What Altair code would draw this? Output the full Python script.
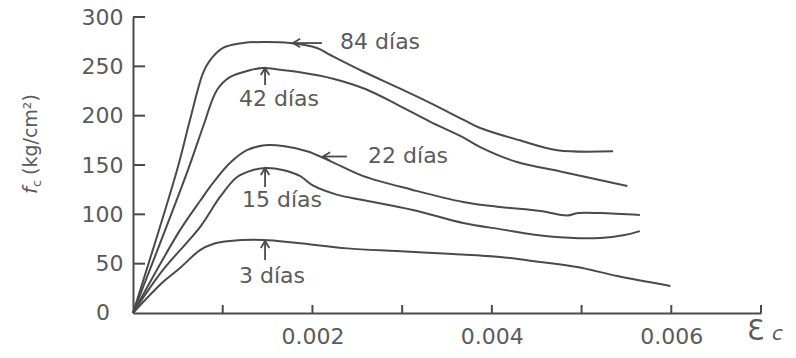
import altair as alt
import pandas as pd

# ---- data ----
x84 = [0, 0.000491, 0.000635, 0.00078, 0.000858, 0.001003, 0.001226, 0.001449, 0.00175, 0.00205, 0.0022,
       0.00256, 0.00294, 0.00331, 0.00368, 0.00387, 0.00431, 0.00473, 0.00535]
y84 = [0, 145, 195.6, 243, 256, 268.6, 273.6, 274.7, 273.6, 268.6, 261.5,
       245, 229, 213, 196, 187.5, 175, 165, 164]

x42 = [0, 0.000613, 0.00078, 0.000936, 0.00108, 0.0013, 0.00145, 0.00164, 0.00186, 0.00223, 0.00259,
       0.00295, 0.00331, 0.00368, 0.00387, 0.00428, 0.00479, 0.00551]
y42 = [0, 145, 188.5, 226, 239, 246, 248.3, 246.5, 244, 237.5, 227,
       211, 194, 178, 168.2, 153, 143, 128.7]

x22 = [0, 0.000524, 0.000747, 0.000892, 0.00108, 0.00127, 0.00147, 0.00169, 0.00194, 0.0022, 0.00256,
       0.00312, 0.00368, 0.00409, 0.00454, 0.00484, 0.00496, 0.00521, 0.00565]
y22 = [0, 84, 113.5, 131.8, 152, 165, 170, 169, 164, 154, 139,
       124.7, 112.5, 107.4, 103.4, 98.8, 101.3, 101.3, 99.3]

x15 = [0, 0.000334, 0.000747, 0.00097, 0.00116, 0.00134, 0.00149, 0.00167, 0.00186, 0.00201, 0.00227,
       0.00256, 0.00312, 0.00368, 0.00409, 0.00465, 0.00521, 0.00548, 0.00565]
y15 = [0, 43.6, 87, 117.6, 137.8, 145, 147, 145, 139, 129, 120,
       114.6, 104.4, 91.2, 85, 77.5, 76, 79, 83]

x3 = [0, 0.000334, 0.000524, 0.000747, 0.000892, 0.00108, 0.00145, 0.00183, 0.00239, 0.00294, 0.00357,
      0.00409, 0.00454, 0.00495, 0.0054, 0.00599]
y3 = [0, 31.4, 45.6, 63.8, 70, 73, 74, 71, 65.5, 62.8, 59.8,
      56.8, 51.7, 46.6, 37.5, 27.4]

series = {"84 días": (x84, y84), "42 días": (x42, y42), "22 días": (x22, y22),
          "15 días": (x15, y15), "3 días": (x3, y3)}

# curve labels (text, x, y)
label_text = ["84 días", "42 días", "22 días", "15 días", "3 días"]
label_x = [0.002754, 0.001628, 0.003066, 0.001661, 0.00155]
label_y = [274.6, 216.9, 159.1, 114.5, 37.5]

# arrows: head and tail positions
h_arrow_xhead = [0.001784, 0.002118]
h_arrow_xtail = [0.002107, 0.002386]
h_arrow_y = [273.6, 158.6]
v_arrow_x = [0.001472, 0.001472, 0.001472]
v_arrow_yhead = [248.3, 147.0, 73.0]
v_arrow_ytail = [231.0, 127.7, 53.7]

x_tick_vals = [0.001, 0.002, 0.003, 0.004, 0.005, 0.006, 0.007]
x_label_vals = [0.002, 0.004, 0.006]
y_tick_vals = [50, 100, 150, 200, 250, 300]

INK = "#4a4a4a"
TXT = "#5a5a5a"
FONT = "DejaVu Sans"
FS = 22

rows = []
for name, (xs_, ys_) in series.items():
    for i, (a, b) in enumerate(zip(xs_, ys_)):
        rows.append({"serie": name, "x": a, "y": b, "o": i})
df = pd.DataFrame(rows)

xs = alt.Scale(domain=[0, 0.007], nice=False, zero=False)
ys = alt.Scale(domain=[0, 300], nice=False)

lines = alt.Chart(df).mark_line(color=INK, strokeWidth=2, interpolate="catmull-rom").encode(
    x=alt.X("x:Q", scale=xs, title=None,
            axis=alt.Axis(values=x_label_vals, format=".3f", ticks=False, tickSize=0, grid=False,
                          domainColor=INK, domainWidth=2, labelFont=FONT, labelFontSize=FS,
                          labelColor=TXT, labelPadding=13, title=None)),
    y=alt.Y("y:Q", scale=ys, title=None,
            axis=alt.Axis(values=y_tick_vals, ticks=False, tickSize=0, grid=False,
                          domainColor=INK, domainWidth=2, labelFont=FONT, labelFontSize=FS,
                          labelColor=TXT, labelPadding=10, title=None)),
    detail="serie:N",
    order="o:Q",
)

# inward ticks
yt = alt.Chart(pd.DataFrame({"v": y_tick_vals})).mark_rule(color=INK, strokeWidth=2).encode(
    y=alt.Y("v:Q", scale=ys, title=None), x=alt.value(0), x2=alt.value(12))
xt = alt.Chart(pd.DataFrame({"v": x_tick_vals})).mark_rule(color=INK, strokeWidth=2).encode(
    x=alt.X("v:Q", scale=xs, title=None), y=alt.value(296), y2=alt.value(288))

zero_lbl = alt.Chart(pd.DataFrame({"x": [0], "y": [0], "t": ["0"]})).mark_text(
    font=FONT, fontSize=FS, color=TXT, align="right", baseline="middle", dx=-23).encode(
    x=alt.X("x:Q", scale=xs, title=None), y=alt.Y("y:Q", scale=ys, title=None), text="t:N")

labels = alt.Chart(pd.DataFrame({"t": label_text, "x": label_x, "y": label_y})).mark_text(
    font=FONT, fontSize=FS, color=TXT, align="center", baseline="middle").encode(
    x=alt.X("x:Q", scale=xs, title=None), y=alt.Y("y:Q", scale=ys, title=None), text="t:N")

harr = pd.DataFrame({"xh": h_arrow_xhead, "xt": h_arrow_xtail, "y": h_arrow_y})
h_shaft = alt.Chart(harr).mark_rule(color=INK, strokeWidth=1.8).encode(
    x=alt.X("xh:Q", scale=xs, title=None), x2="xt:Q", y=alt.Y("y:Q", scale=ys, title=None))
h_head = alt.Chart(harr).mark_point(shape="M1,-0.6L0,0L1,0.6", filled=False, size=200,
                                    color=INK, strokeWidth=1.8, opacity=1).encode(
    x=alt.X("xh:Q", scale=xs, title=None), y=alt.Y("y:Q", scale=ys, title=None))

varr = pd.DataFrame({"x": v_arrow_x, "yh": v_arrow_yhead, "yt": v_arrow_ytail})
v_shaft = alt.Chart(varr).mark_rule(color=INK, strokeWidth=1.8).encode(
    x=alt.X("x:Q", scale=xs, title=None), y=alt.Y("yh:Q", scale=ys, title=None), y2="yt:Q")
v_head = alt.Chart(varr).mark_point(shape="M-0.6,1L0,0L0.6,1", filled=False, size=200,
                                    color=INK, strokeWidth=1.8, opacity=1).encode(
    x=alt.X("x:Q", scale=xs, title=None), y=alt.Y("yh:Q", scale=ys, title=None))

one = pd.DataFrame({"a": [0]})
t_f = alt.Chart(one).mark_text(font=FONT, fontSize=20, fontStyle="italic", color=TXT, angle=270,
                               align="left", baseline="alphabetic").encode(
    x=alt.value(-96), y=alt.value(177), text=alt.value("f"))
t_c = alt.Chart(one).mark_text(font=FONT, fontSize=13, color=TXT, angle=270,
                               align="left", baseline="alphabetic").encode(
    x=alt.value(-92), y=alt.value(170), text=alt.value("c"))
t_u = alt.Chart(one).mark_text(font=FONT, fontSize=19, color=TXT, angle=270,
                               align="left", baseline="alphabetic").encode(
    x=alt.value(-96), y=alt.value(158), text=alt.value("(kg/cm²)"))

e_big = alt.Chart(one).mark_text(font=FONT, fontSize=28, color=TXT, align="left",
                                 baseline="alphabetic").encode(
    x=alt.value(614), y=alt.value(323), text=alt.value("Ɛ"))
e_c = alt.Chart(one).mark_text(font=FONT, fontSize=20, fontStyle="italic", color=TXT, align="left",
                               baseline="alphabetic").encode(
    x=alt.value(639), y=alt.value(323), text=alt.value("c"))

chart = alt.layer(lines, yt, xt, zero_lbl, labels, h_shaft, h_head, v_shaft, v_head,
                  t_f, t_c, t_u, e_big, e_c).properties(
    width=628, height=296,
    padding={"left": 133, "top": 17, "right": 35, "bottom": 45},
    autosize=alt.AutoSizeParams(type="none"),
    background="white",
).configure_view(stroke=None)

chart.save("out.html", embed_options={"renderer": "svg", "actions": False})
